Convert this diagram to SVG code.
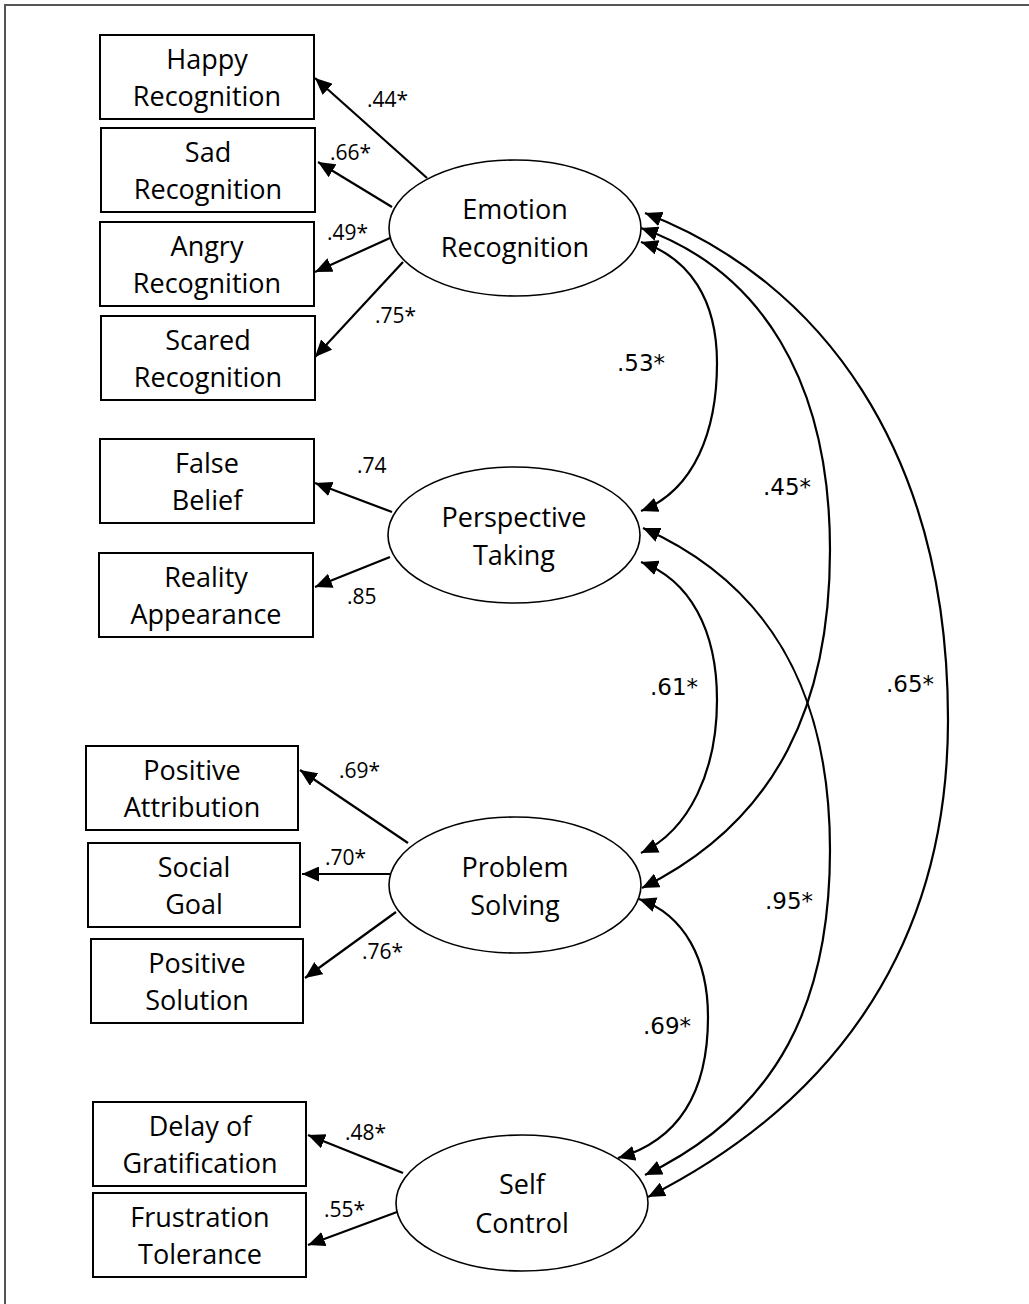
<svg xmlns="http://www.w3.org/2000/svg" width="1029" height="1304" viewBox="0 0 1029 1304">
<defs>
<marker id="ah" markerUnits="userSpaceOnUse" markerWidth="18" markerHeight="15" refX="17" refY="7.5" orient="auto-start-reverse">
<path d="M0,0 L17,7.5 L0,15 z" fill="#000"/>
</marker>
<style>
.box{fill:#fff;stroke:#000;stroke-width:2}
.lat{fill:#fff;stroke:#000;stroke-width:1.6}
.t{font-family:"Open Sans","Liberation Sans",sans-serif;font-size:27px;text-anchor:middle;fill:#000}
.c{font-family:"Open Sans","Liberation Sans",sans-serif;font-size:21px;fill:#000}
.r{font-family:"DejaVu Sans",sans-serif;font-size:23px;fill:#000}
.ln{fill:none;stroke:#000;stroke-width:2.2;marker-end:url(#ah)}
.cv{fill:none;stroke:#000;stroke-width:2.2;marker-start:url(#ah);marker-end:url(#ah)}
.frame{stroke:#555;stroke-width:2;fill:none}
</style>
</defs>
<rect width="1029" height="1304" fill="#fff"/>
<path class="frame" d="M5,1304 L5,5 L1029,5"/>

<g id="connectors">
<line class="ln" x1="427" y1="178" x2="315" y2="78"/>
<line class="ln" x1="392" y1="207" x2="318" y2="162"/>
<line class="ln" x1="390" y1="238" x2="315" y2="272"/>
<line class="ln" x1="403" y1="262" x2="315" y2="357"/>
<line class="ln" x1="392" y1="512" x2="315" y2="483"/>
<line class="ln" x1="390" y1="557" x2="315" y2="587"/>
<line class="ln" x1="408" y1="843" x2="300" y2="770"/>
<line class="ln" x1="390" y1="874" x2="302" y2="874"/>
<line class="ln" x1="396" y1="912" x2="305" y2="978"/>
<line class="ln" x1="403" y1="1173" x2="308" y2="1135"/>
<line class="ln" x1="397" y1="1212" x2="308" y2="1245"/>
<path class="cv" d="M641,242 C690,258 717,300 717,363 C717,430 695,490 641,511"/>
<path class="cv" d="M641,562 C690,580 717,630 717,700 C717,770 690,830 641,853"/>
<path class="cv" d="M639,899 C685,915 708,960 708,1017 C708,1090 680,1140 618,1158"/>
<path class="cv" d="M641,228 C760,270 830,380 830,550 C830,700 780,820 642,888"/>
<path class="cv" d="M643,528 C760,580 830,680 830,850 C830,1000 780,1110 645,1175"/>
<path class="cv" d="M645,213 C820,280 948,450 948,720 C948,960 820,1110 648,1197"/>
</g>

<g id="labels">
<text class="c" x="367" y="107">.44*</text>
<text class="c" x="330" y="160">.66*</text>
<text class="c" x="327" y="240">.49*</text>
<text class="c" x="375" y="323">.75*</text>
<text class="c" x="357" y="473">.74</text>
<text class="c" x="347" y="604">.85</text>
<text class="c" x="339" y="778">.69*</text>
<text class="c" x="325" y="865">.70*</text>
<text class="c" x="362" y="959">.76*</text>
<text class="c" x="345" y="1140">.48*</text>
<text class="c" x="324" y="1217">.55*</text>
<text class="r" x="617" y="371">.53*</text>
<text class="r" x="763" y="495">.45*</text>
<text class="r" x="650" y="695">.61*</text>
<text class="r" x="886" y="692">.65*</text>
<text class="r" x="765" y="909">.95*</text>
<text class="r" x="643" y="1034">.69*</text>
</g>

<g id="happy"><rect class="box" x="100" y="35" width="214" height="84"/><text class="t" x="207" y="69">Happy</text><text class="t" x="207" y="106">Recognition</text></g>
<g id="sad"><rect class="box" x="101" y="128" width="214" height="84"/><text class="t" x="208" y="162">Sad</text><text class="t" x="208" y="199">Recognition</text></g>
<g id="angry"><rect class="box" x="100" y="222" width="214" height="84"/><text class="t" x="207" y="256">Angry</text><text class="t" x="207" y="293">Recognition</text></g>
<g id="scared"><rect class="box" x="101" y="316" width="214" height="84"/><text class="t" x="208" y="350">Scared</text><text class="t" x="208" y="387">Recognition</text></g>
<g id="falsebelief"><rect class="box" x="100" y="439" width="214" height="84"/><text class="t" x="207" y="473">False</text><text class="t" x="207" y="510">Belief</text></g>
<g id="reality"><rect class="box" x="99" y="553" width="214" height="84"/><text class="t" x="206" y="587">Reality</text><text class="t" x="206" y="624">Appearance</text></g>
<g id="posattr"><rect class="box" x="86" y="746" width="212" height="84"/><text class="t" x="192" y="780">Positive</text><text class="t" x="192" y="817">Attribution</text></g>
<g id="socialgoal"><rect class="box" x="88" y="843" width="212" height="84"/><text class="t" x="194" y="877">Social</text><text class="t" x="194" y="914">Goal</text></g>
<g id="possol"><rect class="box" x="91" y="939" width="212" height="84"/><text class="t" x="197" y="973">Positive</text><text class="t" x="197" y="1010">Solution</text></g>
<g id="delay"><rect class="box" x="93" y="1102" width="213" height="84"/><text class="t" x="200" y="1136">Delay of</text><text class="t" x="200" y="1173">Gratification</text></g>
<g id="frustration"><rect class="box" x="93" y="1193" width="213" height="84"/><text class="t" x="200" y="1227">Frustration</text><text class="t" x="200" y="1264">Tolerance</text></g>

<g id="emotion"><ellipse class="lat" cx="515" cy="228" rx="126" ry="68"/><text class="t" x="515" y="219">Emotion</text><text class="t" x="515" y="257">Recognition</text></g>
<g id="perspective"><ellipse class="lat" cx="514" cy="535" rx="126" ry="68"/><text class="t" x="514" y="527">Perspective</text><text class="t" x="514" y="565">Taking</text></g>
<g id="problem"><ellipse class="lat" cx="515" cy="885" rx="126" ry="68"/><text class="t" x="515" y="877">Problem</text><text class="t" x="515" y="915">Solving</text></g>
<g id="selfcontrol"><ellipse class="lat" cx="522" cy="1203" rx="126" ry="68"/><text class="t" x="522" y="1194">Self</text><text class="t" x="522" y="1233">Control</text></g>
</svg>
